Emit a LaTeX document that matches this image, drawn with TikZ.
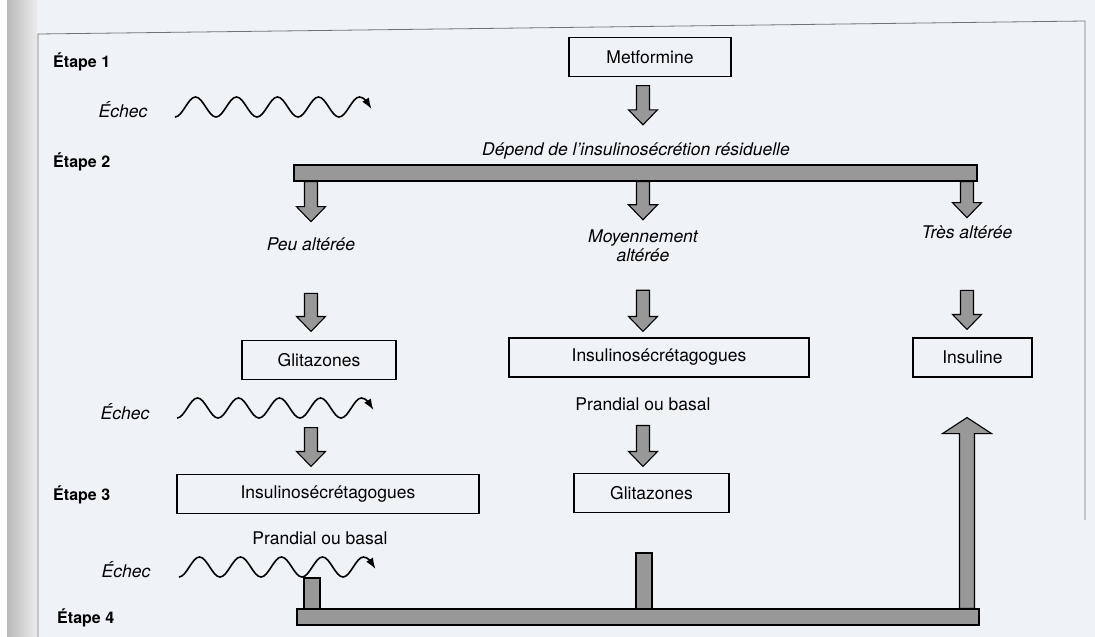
\documentclass[tikz,border=0pt]{standalone}
\usepackage{fontspec}
\setmainfont{TeX Gyre Heros}
\usepackage{xcolor}
\usepackage{tikz}
\usetikzlibrary{calc}
\usetikzlibrary{arrows}
\usetikzlibrary{arrows.meta}
\usetikzlibrary{positioning}
\tikzset{>=latex}
\definecolor{paper}{RGB}{239,242,247}
\definecolor{barfill}{RGB}{152,152,152}
\tikzstyle{box} = [draw=black, line width=1.1pt, minimum height=39pt, inner sep=0, font=\fontsize{17.5}{19}\selectfont]
\tikzstyle{txt} = [draw=none, inner sep=1, font=\fontsize{17.5}{19}\selectfont]
\tikzstyle{lab} = [txt, font=\fontsize{17.5}{19}\selectfont\itshape]
\tikzstyle{etape} = [draw=none, inner sep=1, anchor=west, font=\fontsize{16}{19}\selectfont\bfseries]
\tikzstyle{bar} = [draw=black, line width=1.1pt, fill=barfill, minimum height=16pt, inner sep=0]
\tikzstyle{fat} = [draw=black, line width=1.1pt, fill=barfill, line join=miter]
\tikzstyle{wave} = [-{Latex[length=11pt, width=8pt]}, line width=1.6pt]
\tikzstyle{frame} = [draw=black!55, line width=0.8pt]
% fat arrow: start, tip, half shaft, half head, head length
\newcommand{\blockarrow}[5]{%
  \draw[fat] let \p1 = #1, \p2 = #2, \n1 = {sign(\y1-\y2)*#5} in
    (\x1-#3,\y1) -- (\x1-#3,{\y2+\n1*1pt}) -- (\x1-#4,{\y2+\n1*1pt}) -- (\x1,\y2)
    -- (\x1+#4,{\y2+\n1*1pt}) -- (\x1+#3,{\y2+\n1*1pt}) -- (\x1+#3,\y1) -- cycle;}

\begin{document}
\begin{tikzpicture}[x=1pt, y=-1pt]
\useasboundingbox (0,0) rectangle (1095,637);
% page
\fill[paper] (0,0) rectangle (1095,637);
\fill[white] (0,0) rectangle (7,637);
\shade[left color=gray!55, right color=gray!15] (7,0) rectangle (37,637);
\draw[frame] (38,637) -- (38,34) -- (1085,21) -- (1085,520);

% steps
\node [etape] (E1) at (52,62) {Étape 1};
\node [etape] (E2) at (52,162) {Étape 2};
\node [etape] (E3) at (52,495) {Étape 3};
\node [etape] (E4) at (56,618) {Étape 4};
\node [lab] (ech1) at (123,110) {Échec};
\node [lab] (ech2) at (125,412) {Échec};
\node [lab] (ech3) at (126,570) {Échec};

% boxes and labels
\node [box, minimum width=162pt] (metf) at (650,57) {Metformine};
\node [lab] (dep) at (636,151) {Dépend de l'insulinosécrétion résiduelle};
\node [bar, minimum width=683pt] (bar2) at (635.5,173) {};
\node [lab] (peu) at (311,244) {Peu altérée};
\node [lab, align=center] (moy) at (643,246) {Moyennement\\altérée};
\node [lab] (tres) at (967,232) {Très altérée};
\node [box, minimum width=154pt] (glit1) at (319,360) {Glitazones};
\node [box, minimum width=300pt] (insm) at (659,357.5) {Insulinosécrétagogues};
\node [box, minimum width=119pt] (insu) at (972.5,357.5) {Insuline};
\node [txt] (pm) at (643,404) {Prandial ou basal};
\node [box, minimum width=302pt] (insl) at (328,494) {Insulinosécrétagogues};
\node [box, minimum width=155pt] (glitm) at (651.5,493) {Glitazones};
\node [txt] (pl) at (320,538) {Prandial ou basal};
\node [bar, minimum width=682pt] (bar4) at (638,617) {};

% failures
\coordinate (w1) at (175,117);
\coordinate (w2) at (177,418);
\coordinate (w3) at (179,577);
\foreach \w in {w1, w2, w3}
  \draw [wave] (\w) \foreach \k in {1,...,4} {cos ++(10.25,-10) sin ++(10.25,-10) cos ++(10.25,10) sin ++(10.25,10)}
    cos ++(10.25,-10) sin ++(10.25,-10) cos ++(12,12);

% arrows
\blockarrow{($(moy |- metf.south)+(0,8.5)$)}{($(moy |- dep.north)+(0,-16.75)$)}{6.5pt}{14.5pt}{15}
\blockarrow{(peu |- bar2.south)}{($(peu.north)+(0,-14.6)$)}{6.5pt}{14.5pt}{15}
\blockarrow{(moy |- bar2.south)}{($(moy.north)+(0,-9)$)}{6.5pt}{14.5pt}{15}
\blockarrow{(tres |- bar2.south)}{($(tres.north)+(0,-6.6)$)}{6.5pt}{14.5pt}{15}
\blockarrow{($(peu.south)+(0,41.6)$)}{($(peu |- glit1.north)+(0,-8.5)$)}{6.5pt}{14.5pt}{15}
\blockarrow{($(moy.south)+(0,27)$)}{($(moy |- insm.north)+(0,-6)$)}{6.5pt}{14.5pt}{15}
\blockarrow{($(tres.south)+(0,50.6)$)}{($(tres |- insu.north)+(0,-8)$)}{6.5pt}{14.5pt}{15}
\blockarrow{($(peu |- glit1.south)+(0,47.5)$)}{($(peu |- insl.north)+(0,-7.5)$)}{6.5pt}{14.5pt}{15}
\blockarrow{($(pm.south)+(0,13.75)$)}{($(moy |- glitm.north)+(0,-6.5)$)}{6.5pt}{14.5pt}{15}
\blockarrow{(tres |- bar4.north)}{($(tres |- insu.south)+(0,40)$)}{7.5pt}{24.5pt}{16}

% stubs into the last bar
\coordinate (s1) at (312,578);
\coordinate (s2) at (644,553);
\draw [fat] ($(s1)+(-8,0)$) rectangle ($(s1 |- bar4.north)+(8,0)$);
\draw [fat] ($(s2)+(-8,0)$) rectangle ($(s2 |- bar4.north)+(8,0)$);
\end{tikzpicture}
\end{document}
